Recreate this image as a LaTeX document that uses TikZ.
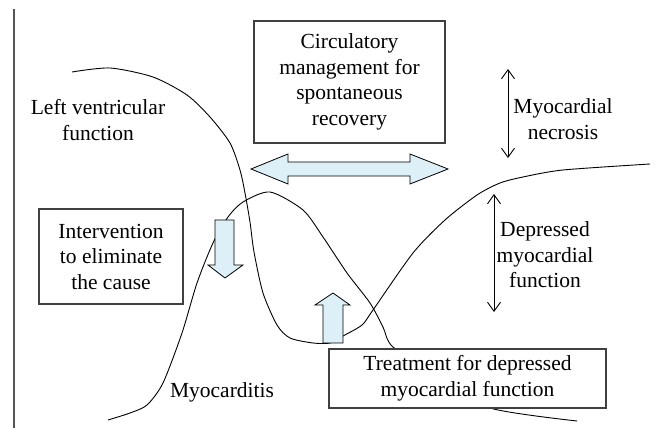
\documentclass[tikz,border=0pt]{standalone}
\usepackage{fontspec}
\setmainfont{Liberation Serif}
\usetikzlibrary{arrows.meta}
\definecolor{boxgray}{RGB}{64,64,64}
\definecolor{axisgray}{RGB}{85,85,85}
\definecolor{arrowblue}{RGB}{221,240,248}
\tikzset{
  curve/.style={draw=black, line width=0.9pt, smooth, tension=0.45},
  txt/.style={align=center, inner sep=0pt, font=\fontsize{21.5}{25.5}\selectfont},
  framebox/.style={draw=boxgray, line width=1.3pt, fill=white, align=center, inner sep=0pt, font=\fontsize{21.5}{25.5}\selectfont},
  blockarrow/.style={draw=black, line width=0.8pt, fill=arrowblue},
  thinarrow/.style={draw=black, line width=0.9pt, {Straight Barb[length=9pt,width=13pt]}-{Straight Barb[length=9pt,width=13pt]}}
}
\begin{document}
\begin{tikzpicture}[x=1pt,y=-1pt]
\useasboundingbox (0,0) rectangle (659,430);
% vertical axis
\coordinate (axtop) at (14,9);
\coordinate (axbot) at (14,428);
\draw[axisgray, line width=1.6pt] (axtop) -- (axbot);

% left ventricular function curve
\draw[curve] plot coordinates {(72,72) (110,68) (153,77) (187,95) (210,117) (230,143) (240,170) (245,193) (250,222) (254,252) (263,293) (277,325) (290,338) (313,343) (330,343) (343,336) (362,325) (373,310) (413,253) (445,220) (477,195) (500,183) (523,177) (563,170) (650,164)};

% myocarditis curve
\draw[curve] plot coordinates {(108,420) (130,413) (147,405) (163,383) (182,333) (197,283) (213,243) (228,217) (243,202) (270,192) (303,210) (323,237) (347,273) (370,303) (383,327) (393,347) (441,378) (490,408) (577,421)};

% thin double arrows
\coordinate (necT) at (508,69);
\coordinate (necB) at (508,158);
\draw[thinarrow] (necT) -- (necB);
\coordinate (depT) at (494,194);
\coordinate (depB) at (494,312);
\draw[thinarrow] (depT) -- (depB);

% block arrows
\draw[blockarrow] (251,169) -- (288,154) -- (288,162) -- (410,162) -- (410,154) -- (448,169) -- (410,184) -- (410,176) -- (288,176) -- (288,184) -- cycle;
\draw[blockarrow] (215,220) -- (234,220) -- (234,265) -- (243,265) -- (225,278) -- (208,265) -- (215,265) -- cycle;
\draw[blockarrow] (323,343) -- (343,343) -- (343,305) -- (350,305) -- (333,293) -- (315,305) -- (323,305) -- cycle;

% boxes
\node[framebox, minimum width=191pt, minimum height=122pt] (circ) at (349.5,82) {Circulatory\\management for\\spontaneous\\recovery};
\node[framebox, minimum width=144pt, minimum height=95pt] (interv) at (111,256.5) {Intervention\\to eliminate\\the cause};
\node[framebox, minimum width=277pt, minimum height=59pt] (treat) at (467.5,378.5) {Treatment for depressed\\myocardial function};

% labels
\node[txt] (lvf) at (98,120) {Left ventricular\\function};
\node[txt] (necr) at (563,119) {Myocardial\\necrosis};
\node[txt] (depr) at (545,255) {Depressed\\myocardial\\function};
\node[txt] (myoc) at (222,392) {Myocarditis};
\end{tikzpicture}
\end{document}
